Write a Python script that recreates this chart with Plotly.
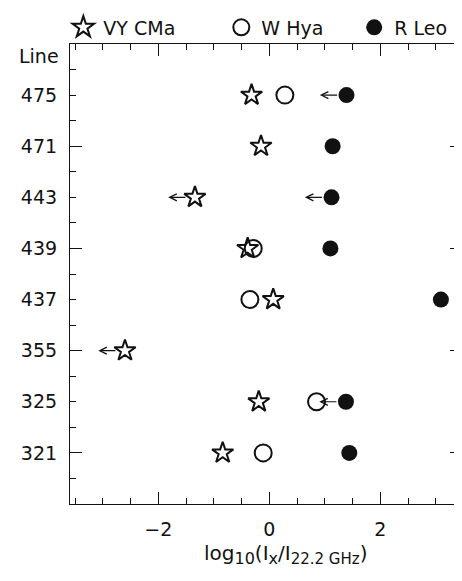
import numpy as np
import plotly.graph_objects as go

# ---- data (top to bottom) ----
lines = ["475", "471", "443", "439", "437", "355", "325", "321"]
vy_cma = [-0.32, -0.15, -1.34, -0.39, 0.07, -2.60, -0.19, -0.84]
vy_cma_upper = [False, False, True, False, False, True, False, False]
w_hya = [0.28, None, None, -0.29, -0.35, None, 0.85, -0.11]
w_hya_upper = [False, False, False, False, False, False, False, False]
r_leo = [1.39, 1.14, 1.12, 1.10, 3.09, None, 1.38, 1.44]
r_leo_upper = [True, False, True, False, False, False, True, False]

n = len(lines)
ypos = [n - 1 - i for i in range(n)]  # 475 at top

FONT = "DejaVu Sans, sans-serif"
FS = 19
INK = "#111111"
ARROW_LEN = 0.48

fig = go.Figure()

series = [
    ("VY CMa", vy_cma, vy_cma_upper, dict(symbol="star-open", size=16, color=INK, line=dict(width=2, color=INK)), "legend"),
    ("W Hya", w_hya, w_hya_upper, dict(symbol="circle-open", size=17, color=INK, line=dict(width=2, color=INK)), "legend2"),
    ("R Leo", r_leo, r_leo_upper, dict(symbol="circle", size=16, color=INK, line=dict(width=0)), "legend3"),
]

for name, vals, upper, mk, lg in series:
    xs = [v for v in vals if v is not None]
    ys = [y for v, y in zip(vals, ypos) if v is not None]
    fig.add_trace(go.Scatter(x=xs, y=ys, mode="markers", name=name, marker=mk,
                             legend=lg, cliponaxis=False))
    for v, y, u in zip(vals, ypos, upper):
        if v is not None and u:
            fig.add_annotation(x=v - ARROW_LEN, y=y, ax=v, ay=y, xref="x", yref="y",
                               axref="x", ayref="y", showarrow=True, arrowhead=5,
                               arrowsize=1.25, arrowwidth=1.1, arrowcolor=INK,
                               startstandoff=8, text="")

# invisible trace to carry the long-tick overlay axis
fig.add_trace(go.Scatter(x=[None], y=[None], yaxis="y2", showlegend=False, hoverinfo="skip"))

XMIN, XMAX = -3.59, 3.47
YMIN, YMAX = -1, 8
x_major = [-2, 0, 2]
x_minor = [v for v in np.arange(-3.5, 3.51, 0.5) if round(v, 3) not in x_major]

fig.update_layout(
    width=454, height=573,
    margin=dict(l=62, r=0, t=24, b=77),
    paper_bgcolor="white", plot_bgcolor="white",
    font=dict(family=FONT, size=FS, color=INK),
    showlegend=True,
    legend=dict(x=-0.017, y=1.036, xanchor="left", yanchor="middle", orientation="h",
                font=dict(size=FS), bgcolor="rgba(0,0,0,0)"),
    legend2=dict(x=0.386, y=1.036, xanchor="left", yanchor="middle", orientation="h",
                 font=dict(size=FS), bgcolor="rgba(0,0,0,0)"),
    legend3=dict(x=0.725, y=1.036, xanchor="left", yanchor="middle", orientation="h",
                 font=dict(size=FS), bgcolor="rgba(0,0,0,0)"),
    xaxis=dict(range=[XMIN, XMAX], showgrid=False, zeroline=False, showline=True,
               linecolor=INK, linewidth=1.2, mirror="ticks", ticks="inside",
               tickmode="array", tickvals=x_major, ticklen=12, tickwidth=1.2,
               tickcolor=INK, ticklabelstandoff=8,
               minor=dict(tickvals=x_minor, ticks="inside",
                          ticklen=6, tickwidth=1.2, tickcolor=INK, showgrid=False)),
    yaxis=dict(range=[YMIN, YMAX], showgrid=False, zeroline=False, showline=True,
               linecolor=INK, linewidth=1.2, mirror="ticks", ticks="inside",
               tickmode="array", tickvals=ypos, ticktext=lines, ticklen=6,
               tickwidth=1.2, tickcolor=INK, ticklabelstandoff=8,
               minor=dict(tickvals=list(np.arange(YMIN + 0.5, YMAX, 1.0)), ticks="inside",
                          ticklen=6, tickwidth=1.2, tickcolor=INK, showgrid=False)),
    yaxis2=dict(range=[YMIN, YMAX], overlaying="y", side="left", anchor="x",
                showgrid=False, zeroline=False, showline=True, linecolor=INK,
                linewidth=1.2, mirror="ticks", ticks="inside", tickmode="array",
                tickvals=list(range(0, YMAX + 1, 2)), ticklen=12, tickwidth=1.2,
                tickcolor=INK, showticklabels=False),
)

fig.add_annotation(text="Line", xref="paper", yref="y", x=0, y=7.76, xanchor="right",
                   yanchor="middle", xshift=-9, showarrow=False, font=dict(size=FS))
fig.add_annotation(
    text="log<sub><span style='font-size:16px'>10</span></sub>(I<sub><span style='font-size:16px'>x</span></sub>/I<sub><span style='font-size:15px'>22.2 GHz</span></sub>)",
    xref="paper", yref="paper", x=0.55, y=-0.11, xanchor="center",
    yanchor="middle", showarrow=False, font=dict(size=20))

fig.write_html("out.html")
